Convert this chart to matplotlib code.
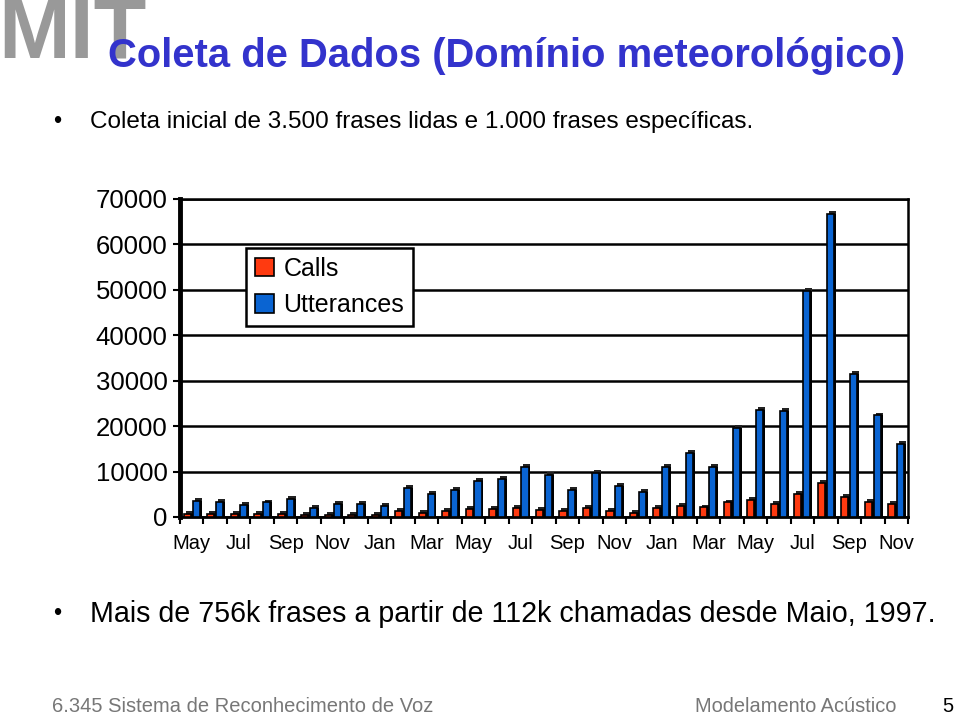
import matplotlib
matplotlib.use("Agg")
import matplotlib.pyplot as plt
import numpy as np
from matplotlib.patches import Patch

months = ["May", "Jun", "Jul", "Aug", "Sep", "Oct", "Nov", "Dec",
          "Jan", "Feb", "Mar", "Apr", "May", "Jun", "Jul", "Aug", "Sep", "Oct", "Nov", "Dec",
          "Jan", "Feb", "Mar", "Apr", "May", "Jun", "Jul", "Aug", "Sep", "Oct", "Nov"]
calls = [650, 650, 600, 700, 700, 500, 500, 500,
         500, 1250, 950, 1250, 1800, 1800, 2000, 1600, 1250, 1950, 1250, 900,
         1950, 2350, 2100, 3200, 3650, 2900, 5100, 7450, 4500, 3350, 2900]
utterances = [3550, 3350, 2550, 3200, 4000, 1950, 2850, 2850,
              2350, 6300, 5100, 5850, 7950, 8450, 10950, 9300, 6000, 9750, 6850, 5600,
              10950, 14150, 10950, 19700, 23500, 23300, 49800, 66600, 31400, 22350, 16050]
yticks = [0, 10000, 20000, 30000, 40000, 50000, 60000, 70000]

RED = "#FF3A10"
BLUE = "#0A64D2"

plt.rcParams['font.family'] = ['Liberation Sans', 'DejaVu Sans']
fig = plt.figure(figsize=(9.6, 7.17), dpi=100)

# Slide texts
fig.text(-0.002, 1.006, "MIT", fontsize=62, fontweight='bold', color='#999999',
         ha='left', va='top')
fig.text(0.112, 0.922, "Coleta de Dados (Domínio meteorológico)", fontsize=28.8,
         fontweight='bold', color='#3333CC', ha='left', va='center')
fig.text(0.055, 0.830, "•", fontsize=17, ha='left', va='center')
fig.text(0.094, 0.830, "Coleta inicial de 3.500 frases lidas e 1.000 frases específicas.",
         fontsize=17.5, ha='left', va='center')
fig.text(0.055, 0.143, "•", fontsize=17, ha='left', va='center')
fig.text(0.094, 0.143, "Mais de 756k frases a partir de 112k chamadas desde Maio, 1997.",
         fontsize=20.6, ha='left', va='center')
fig.text(0.054, 0.014, "6.345 Sistema de Reconhecimento de Voz", fontsize=14.5,
         color='#777777', ha='left', va='center')
fig.text(0.724, 0.015, "Modelamento Acústico", fontsize=14.4, color='#777777',
         ha='left', va='center')
fig.text(0.993, 0.015, "5", fontsize=14.5, color='black', ha='right', va='center')

ax = fig.add_axes([180 / 960, 1 - 517 / 717, (908 - 180) / 960, (517 - 199) / 717])
x = np.arange(len(months))
w = 0.30
off = 0.19
dx = 0.08
dy = 650
# depth (3D shadow)
ax.bar(x - off + dx, calls, width=w, color='black', zorder=3, linewidth=0)
ax.bar(x + off + dx, utterances, width=w, color='black', zorder=3, linewidth=0)
ax.bar(x - off + dx, [dy] * len(x), bottom=calls, width=w, color='#222222', zorder=3, linewidth=0)
ax.bar(x + off + dx, [dy] * len(x), bottom=utterances, width=w, color='#222222', zorder=3, linewidth=0)
ax.bar(x - off, calls, width=w, color=RED, edgecolor='black', linewidth=1.2, zorder=4)
ax.bar(x + off, utterances, width=w, color=BLUE, edgecolor='black', linewidth=1.2, zorder=4)

ax.set_xlim(-0.5, len(months) - 0.5)
ax.set_ylim(0, 70000)
ax.set_yticks(yticks)
ax.set_yticklabels([str(v) for v in yticks], fontsize=18.5)
ax.yaxis.grid(True, color='black', linewidth=1.8, zorder=1)
ax.set_axisbelow(True)
ax.tick_params(axis='y', length=5, width=1.5, pad=4)

ax.set_xticks(x[::2])
ax.set_xticklabels(months[::2], fontsize=14.5)
ax.set_xticks(np.arange(-0.5, len(months), 1.0), minor=True)
ax.tick_params(axis='x', which='major', length=0, pad=12)
ax.tick_params(axis='x', which='minor', length=5, width=1.5, direction='out')

ax.spines['left'].set_linewidth(3.5)
ax.spines['bottom'].set_linewidth(2)
ax.spines['top'].set_linewidth(1.8)
ax.spines['right'].set_linewidth(1.8)

handles = [Patch(facecolor=RED, edgecolor='black', linewidth=1.2),
           Patch(facecolor=BLUE, edgecolor='black', linewidth=1.2)]
leg = ax.legend(handles, ["Calls", "Utterances"], loc='upper left',
                bbox_to_anchor=(66 / 728, 1 - 49 / 318), fontsize=18,
                frameon=True, fancybox=False, edgecolor='black', framealpha=1,
                handlelength=0.75, handleheight=0.75, handletextpad=0.4,
                borderpad=0.35, labelspacing=0.5, borderaxespad=0)
leg.get_frame().set_linewidth(1.8)

fig.savefig("out.png", dpi=100)
